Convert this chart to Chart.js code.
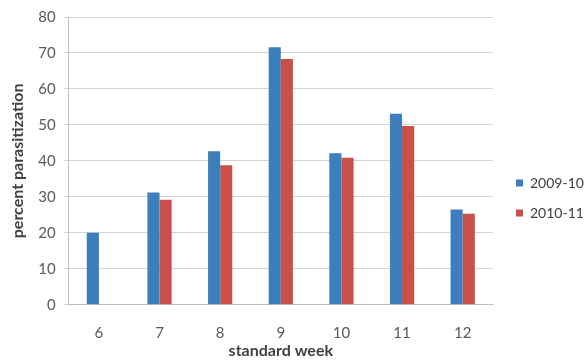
<!DOCTYPE html>
<html>
<head>
<meta charset="utf-8">
<script src="https://cdn.jsdelivr.net/npm/chart.js@4/dist/chart.umd.min.js"></script>
<style>
  html, body { margin: 0; padding: 0; background: #ffffff; }
  #wrap { width: 587px; height: 360px; position: relative; }
</style>
</head>
<body>
<div id="wrap"><canvas id="chart" width="587" height="360"></canvas></div>
<script>
// Standard weeks and percent parasitization for two seasons
const weeks = ['6', '7', '8', '9', '10', '11', '12'];
const season2009 = [20, 31.2, 42.7, 71.6, 42.1, 53.1, 26.5];
const season2010 = [null, 29.2, 38.8, 68.3, 40.9, 49.7, 25.3];
const seriesNames = ['2009-10', '2010-11'];
const yTicks = [0, 10, 20, 30, 40, 50, 60, 70, 80];

const font = 'Lato, "Open Sans", "DejaVu Sans", sans-serif';
Chart.defaults.font.family = font;
Chart.defaults.color = '#595959';

// Reserve a fixed-width column for the legend and nudge it inside that column
const LEGEND_WIDTH = 94;
const LEGEND_SHIFT = { x: 7, y: 10 };
const legendPlacement = {
  id: 'legendPlacement',
  beforeLayout(chart) {
    const lg = chart.legend;
    if (lg && !lg._fixedWidth) {
      const fit = lg.fit.bind(lg);
      lg.fit = function () { fit(); this.width = LEGEND_WIDTH; };
      lg._fixedWidth = true;
    }
  },
  afterLayout(chart) {
    const lg = chart.legend;
    if (!lg) return;
    lg.left += LEGEND_SHIFT.x; lg.right += LEGEND_SHIFT.x;
    lg.top += LEGEND_SHIFT.y; lg.bottom += LEGEND_SHIFT.y;
  }
};

new Chart(document.getElementById('chart'), {
  type: 'bar',
  data: {
    labels: weeks,
    datasets: [
      { label: seriesNames[0], data: season2009, backgroundColor: '#3d7fbd', borderWidth: 0 },
      { label: seriesNames[1], data: season2010, backgroundColor: '#c9504a', borderWidth: 0 }
    ]
  },
  plugins: [legendPlacement],
  options: {
    responsive: false,
    animation: false,
    datasets: { bar: { categoryPercentage: 0.4, barPercentage: 1.0 } },
    layout: { padding: { top: 16, right: 0, bottom: 0, left: 8 } },
    plugins: {
      legend: {
        position: 'right',
        labels: {
          boxWidth: 7, boxHeight: 7, padding: 16,
          font: { size: 14 }, color: '#404040'
        }
      },
      tooltip: { enabled: false }
    },
    scales: {
      x: {
        grid: { display: false, drawTicks: false },
        border: { color: '#bfbfbf' },
        ticks: { padding: 19, font: { size: 15 }, color: '#595959' },
        title: { display: true, text: 'standard week', font: { size: 16, weight: 'bold' }, color: '#404040', padding: { top: -20, bottom: 0 } }
      },
      y: {
        min: 0, max: 80,
        afterBuildTicks: (axis) => { axis.ticks = yTicks.map(v => ({ value: v })); },
        grid: { color: '#d4d4d4', tickLength: 5 },
        border: { color: '#bfbfbf' },
        ticks: { padding: 8, font: { size: 15 }, color: '#595959' },
        title: { display: true, text: 'percent parasitization', font: { size: 16, weight: 'bold' }, color: '#404040', padding: { top: 0, bottom: 3 } }
      }
    }
  }
});
</script>
</body>
</html>
